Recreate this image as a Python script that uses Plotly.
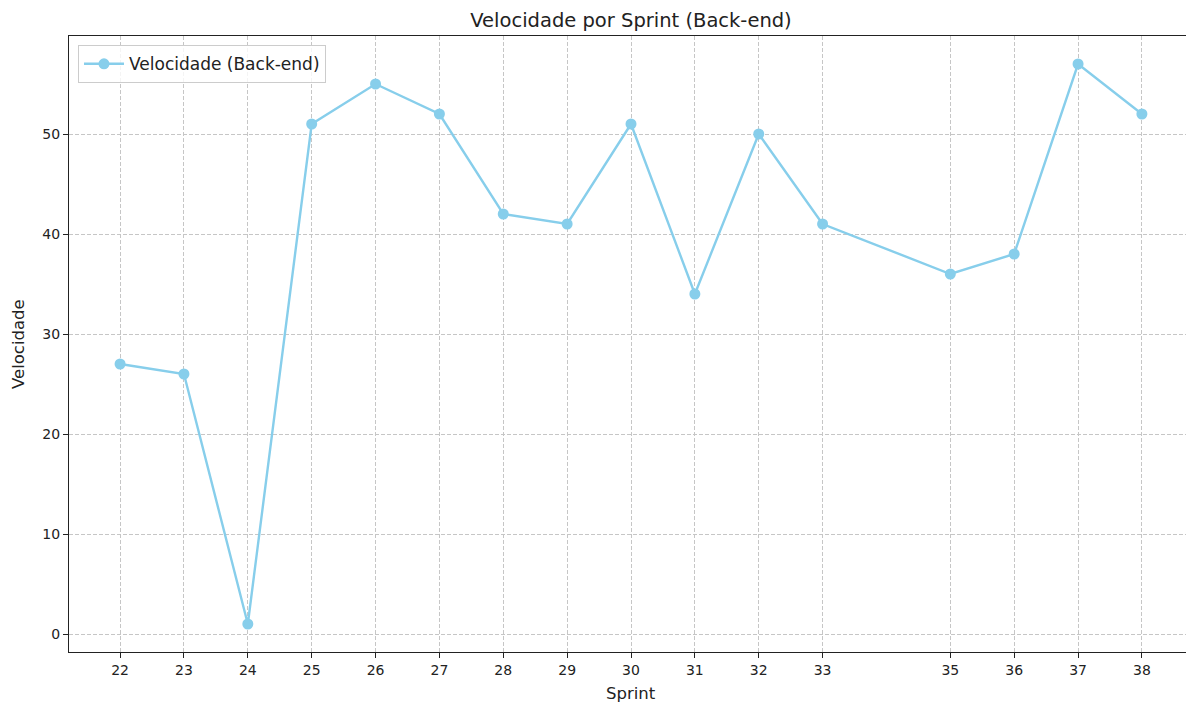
import plotly.graph_objects as go

sprints = [22, 23, 24, 25, 26, 27, 28, 29, 30, 31, 32, 33, 35, 36, 37, 38]
velocidade = [27, 26, 1, 51, 55, 52, 42, 41, 51, 34, 50, 41, 36, 38, 57, 52]
y_ticks = [0, 10, 20, 30, 40, 50]

FONT = "DejaVu Sans"
fig = go.Figure()
fig.add_trace(go.Scatter(
    x=sprints, y=velocidade, mode="lines+markers",
    name="Velocidade (Back-end)",
    line=dict(color="#87CEEB", width=2.4),
    marker=dict(color="#87CEEB", size=11),
))

axis_common = dict(
    showline=True, linecolor="#222", linewidth=1.2, mirror=True,
    ticks="outside", ticklen=5, tickcolor="#222",
    showgrid=True, gridcolor="#c6c6c6", griddash="4px,2px", gridwidth=1,
    zeroline=False, tickfont=dict(family=FONT, size=14, color="#222"),
    automargin=False,
)

fig.update_layout(
    width=1194, height=707,
    margin=dict(l=61, r=9, t=28, b=63, autoexpand=False),
    paper_bgcolor="white", plot_bgcolor="white",
    font=dict(family=FONT, size=14, color="#222"),
    title=dict(text="Velocidade por Sprint (Back-end)", x=0.5, xanchor="center",
               xref="paper", y=0.983, yref="container", yanchor="middle",
               font=dict(family=FONT, size=19.5, color="#222")),
    xaxis=dict(axis_common, range=[21.2, 38.8], tickvals=sprints,
               ticktext=[str(s) for s in sprints]),
    yaxis=dict(axis_common, range=[-1.8, 59.8], tickvals=y_ticks),
    showlegend=True,
    legend=dict(x=0.008, y=0.985, xanchor="left", yanchor="top", itemwidth=40,
                bgcolor="rgba(255,255,255,0.8)", bordercolor="#cccccc", borderwidth=1,
                font=dict(family=FONT, size=17, color="#222")),
    annotations=[
        dict(text="Sprint", xref="paper", yref="paper", x=0.5, y=0,
             xanchor="center", yanchor="middle", yshift=-41, showarrow=False,
             font=dict(family=FONT, size=16.5, color="#222")),
        dict(text="Velocidade", xref="paper", yref="paper", x=0, y=0.5,
             xanchor="center", yanchor="middle", xshift=-51, textangle=-90,
             showarrow=False, font=dict(family=FONT, size=16.5, color="#222")),
    ],
)

fig.write_html("out.html")
